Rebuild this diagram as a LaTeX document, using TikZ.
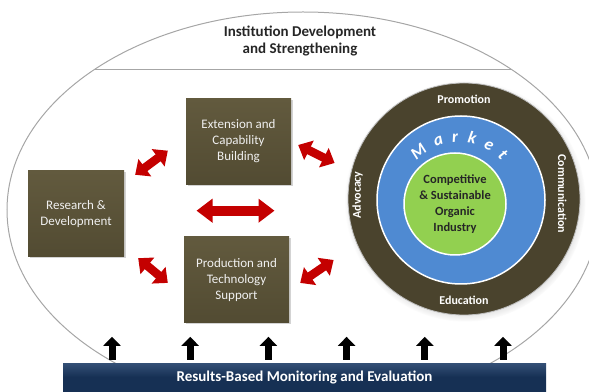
\documentclass[tikz,border=0pt]{standalone}
\usepackage{fontspec}
\setmainfont{Carlito}
\usetikzlibrary{positioning,arrows.meta,shadows,decorations.text,calc}
\definecolor{mybox}{RGB}{82,75,50}
\definecolor{myboxtop}{RGB}{98,90,62}
\definecolor{myring}{RGB}{74,67,45}
\definecolor{myblue}{RGB}{79,138,210}
\definecolor{mygreen}{RGB}{146,208,80}
\definecolor{myred}{RGB}{196,0,0}
\definecolor{mynavy}{RGB}{22,48,84}
\definecolor{mynavytop}{RGB}{52,80,118}
\definecolor{myrim}{gray}{.65}
\newcommand{\widthbox}{105pt}
\newcommand{\heightbox}{86pt}
\tikzset{
    common/.style={rectangle, align=center, minimum height=\heightbox},
    box/.style={common, minimum width=\widthbox, text=white!94!black, font=\fontsize{13}{16}\selectfont,
        top color=myboxtop, bottom color=mybox,
        drop shadow={opacity=.35, shadow xshift=1.5pt, shadow yshift=-1.5pt}},
    twoway/.style={myred, line width=8.5pt, {Triangle[length=12pt,width=21pt]}-{Triangle[length=12pt,width=21pt]}},
    twowaywide/.style={myred, line width=10pt, {Triangle[length=16pt,width=23pt]}-{Triangle[length=16pt,width=23pt]}},
    upward/.style={black, line width=7pt, -{Triangle[length=9pt,width=17pt]}},
    ringlabel/.style={text=white, font=\fontsize{12}{14}\selectfont\bfseries}
}

\begin{document}
\begin{tikzpicture}[x=1pt, y=1pt]
    \useasboundingbox (0,0) rectangle (589,391);
    \draw[myrim, line width=1pt] (303,181) ellipse [x radius=296, y radius=198];
    \draw[myrim, line width=1pt] (94,321) -- (512,321);
    \node[align=center, text=black!85, font=\fontsize{15}{17.5}\selectfont\bfseries] (title) at (300,350) {Institution Development\\and Strengthening};

    \node[box] (ecb) at (238.5,249.5) {Extension and\\Capability\\Building};
    \node[box, below=52pt of ecb, xshift=-2pt] (pts) {Production and\\Technology\\Support};
    \node[box, minimum width=96pt] (rd) at (76,177) {Research \&\\Development};

    \node[circle, minimum size=232pt, fill=myring, draw=white!75!black, line width=.8pt,
        circular drop shadow={opacity=.45, shadow xshift=1pt, shadow yshift=-2pt, shadow scale=1.04}] (ring) at (464,192) {};
    \node[circle, minimum size=168pt, fill=myblue, draw=white, line width=1.5pt] (market) at (461,191) {};
    \node[circle, minimum size=102pt, inner sep=0pt, fill=mygreen, draw=white, line width=1.5pt, align=center,
        text=black!85, font=\fontsize{12.5}{16}\selectfont\bfseries] (core) at (455,187) {Competitive\\\& Sustainable\\Organic\\Industry};
    \path[decorate, decoration={text along path, text align={fit to path},
        text={|\fontsize{17}{17}\selectfont\bfseries\itshape\color{white}|Market}}]
        (459,191) ++(137:58) arc[start angle=137, end angle=43, radius=58];
    \node[ringlabel] at ([yshift=-17pt]ring.north) {Promotion};
    \node[ringlabel] at ([yshift=15pt]ring.south) {Education};
    \node[ringlabel, rotate=90] at ([shift={(10,4)}]ring.west) {Advocacy};
    \node[ringlabel, rotate=-90] at ([shift={(-18,5)}]ring.east) {Communication};

    \coordinate (gap) at ($(ecb.south)!.5!(pts.north)$);
    \draw[twoway] ([shift={(11,-4)}]rd.north east) -- ([shift={(-18,34)}]ecb.south west);
    \draw[twoway] ([shift={(7,-3.5)}]ecb.east) -- ([shift={(-13,36)}]ring.west);
    \draw[twowaywide] ([xshift=-41pt]gap) -- ([xshift=37pt]gap);
    \draw[twoway] ([shift={(14,-1)}]rd.south east) -- ([shift={(-16,-3)}]pts.west);
    \draw[twoway] ([shift={(11,-3)}]pts.east) -- ([shift={(-14,-61)}]ring.west);

    \node[common, minimum width=483pt, minimum height=28pt, top color=mynavytop, bottom color=mynavy, middle color=mynavy,
        text=white, font=\fontsize{15}{17}\selectfont\bfseries] (bar) at (304.5,14) {Results-Based Monitoring and Evaluation};
    \foreach \i in {0,...,5}
        \draw[upward] ([xshift=-192.5+78.2*\i, yshift=3pt]bar.north) -- ++(0,23);
\end{tikzpicture}
\end{document}
